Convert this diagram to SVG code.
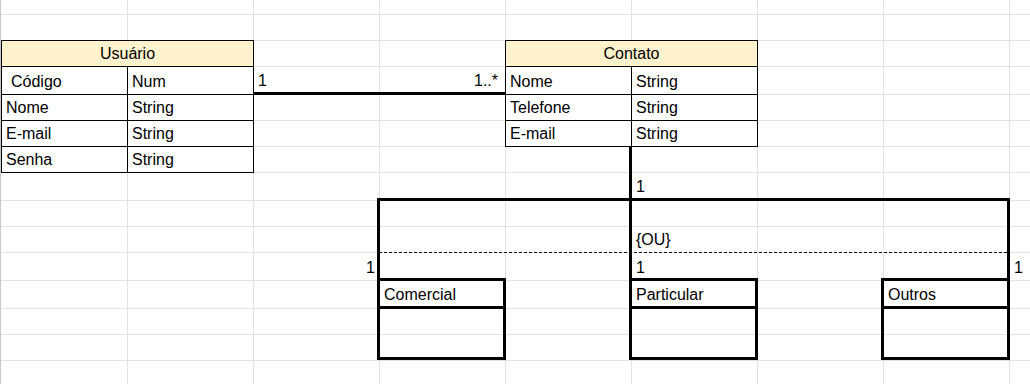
<svg xmlns="http://www.w3.org/2000/svg" width="1030" height="384" viewBox="0 0 1030 384">
  <style>
    text { font-family: "Liberation Sans", Arial, sans-serif; font-size: 16px; fill: #000; }
    .grid line { stroke: #e2e2e2; stroke-width: 1; }
    .cell { stroke: #000; stroke-width: 1; fill: none; }
    .head { fill: #fff2cc; stroke: #000; stroke-width: 1; }
    .thick { stroke: #000; stroke-width: 3; fill: none; }
    .dash { stroke: #000; stroke-width: 1; stroke-dasharray: 3 2; }
    .mid { text-anchor: middle; }
    .end { text-anchor: end; }
  </style>

  <rect width="1030" height="384" fill="#fff"/>

  <!-- spreadsheet grid -->
  <g class="grid">
    <line x1="127.5" y1="0" x2="127.5" y2="384"/>
    <line x1="253.5" y1="0" x2="253.5" y2="384"/>
    <line x1="379.5" y1="0" x2="379.5" y2="384"/>
    <line x1="505.5" y1="0" x2="505.5" y2="384"/>
    <line x1="631.5" y1="0" x2="631.5" y2="384"/>
    <line x1="757.5" y1="0" x2="757.5" y2="384"/>
    <line x1="883.5" y1="0" x2="883.5" y2="384"/>
    <line x1="1009.5" y1="0" x2="1009.5" y2="384"/>
    <line x1="0" y1="14.5" x2="1030" y2="14.5"/>
    <line x1="0" y1="40.5" x2="1030" y2="40.5"/>
    <line x1="0" y1="66.5" x2="1030" y2="66.5"/>
    <line x1="0" y1="94.5" x2="1030" y2="94.5"/>
    <line x1="0" y1="120.5" x2="1030" y2="120.5"/>
    <line x1="0" y1="146.5" x2="1030" y2="146.5"/>
    <line x1="0" y1="172.5" x2="1030" y2="172.5"/>
    <line x1="0" y1="200.5" x2="1030" y2="200.5"/>
    <line x1="0" y1="226.5" x2="1030" y2="226.5"/>
    <line x1="0" y1="252.5" x2="1030" y2="252.5"/>
    <line x1="0" y1="280.5" x2="1030" y2="280.5"/>
    <line x1="0" y1="308.5" x2="1030" y2="308.5"/>
    <line x1="0" y1="334.5" x2="1030" y2="334.5"/>
    <line x1="0" y1="360.5" x2="1030" y2="360.5"/>
    <line x1="0.5" y1="0" x2="0.5" y2="384" style="stroke:#c8c8c8"/>
  </g>

  <!-- connectors -->
  <g id="connectors">
    <line class="thick" x1="253" y1="93.5" x2="505" y2="93.5"/>
    <text x="258" y="86">1</text>
    <text class="end" x="498" y="86">1..*</text>

    <line class="thick" x1="630.5" y1="147" x2="630.5" y2="360"/>
    <text x="636" y="192">1</text>

    <polyline class="thick" points="378.5,280 378.5,199.5 1008.5,199.5 1008.5,280"/>
    <line class="dash" x1="379" y1="252.5" x2="1009" y2="252.5"/>
    <text x="636" y="245">{OU}</text>

    <text x="366" y="273">1</text>
    <text x="636" y="273">1</text>
    <text x="1014" y="273">1</text>
  </g>

  <!-- Usuário -->
  <g id="usuario">
    <rect class="head" x="1.5" y="40.5" width="252" height="26"/>
    <rect class="cell" x="1.5" y="66.5" width="252" height="106"/>
    <line class="cell" x1="127.5" y1="66.5" x2="127.5" y2="172.5"/>
    <line class="cell" x1="1.5" y1="94.5" x2="253.5" y2="94.5"/>
    <line class="cell" x1="1.5" y1="120.5" x2="253.5" y2="120.5"/>
    <line class="cell" x1="1.5" y1="146.5" x2="253.5" y2="146.5"/>
    <text class="mid" x="127.5" y="59">Usuário</text>
    <text x="11" y="87">Código</text>
    <text x="132" y="87">Num</text>
    <text x="6" y="113">Nome</text>
    <text x="132" y="113">String</text>
    <text x="6" y="139">E-mail</text>
    <text x="132" y="139">String</text>
    <text x="6" y="165">Senha</text>
    <text x="132" y="165">String</text>
  </g>

  <!-- Contato -->
  <g id="contato">
    <rect class="head" x="505.5" y="40.5" width="252" height="26"/>
    <rect class="cell" x="505.5" y="66.5" width="252" height="80"/>
    <line class="cell" x1="631.5" y1="66.5" x2="631.5" y2="146.5"/>
    <line class="cell" x1="505.5" y1="94.5" x2="757.5" y2="94.5"/>
    <line class="cell" x1="505.5" y1="120.5" x2="757.5" y2="120.5"/>
    <text class="mid" x="631.5" y="59">Contato</text>
    <text x="510" y="87">Nome</text>
    <text x="636" y="87">String</text>
    <text x="510" y="113">Telefone</text>
    <text x="636" y="113">String</text>
    <text x="510" y="139">E-mail</text>
    <text x="636" y="139">String</text>
  </g>

  <!-- Comercial -->
  <g id="comercial">
    <rect class="thick" x="378.5" y="279.5" width="126" height="79"/>
    <line class="thick" x1="378.5" y1="307.5" x2="504.5" y2="307.5"/>
    <text x="384" y="300">Comercial</text>
  </g>

  <!-- Particular -->
  <g id="particular">
    <rect class="thick" x="630.5" y="279.5" width="126" height="79"/>
    <line class="thick" x1="630.5" y1="307.5" x2="756.5" y2="307.5"/>
    <text x="636" y="300">Particular</text>
  </g>

  <!-- Outros -->
  <g id="outros">
    <rect class="thick" x="882.5" y="279.5" width="126" height="79"/>
    <line class="thick" x1="882.5" y1="307.5" x2="1008.5" y2="307.5"/>
    <text x="888" y="300">Outros</text>
  </g>
</svg>
